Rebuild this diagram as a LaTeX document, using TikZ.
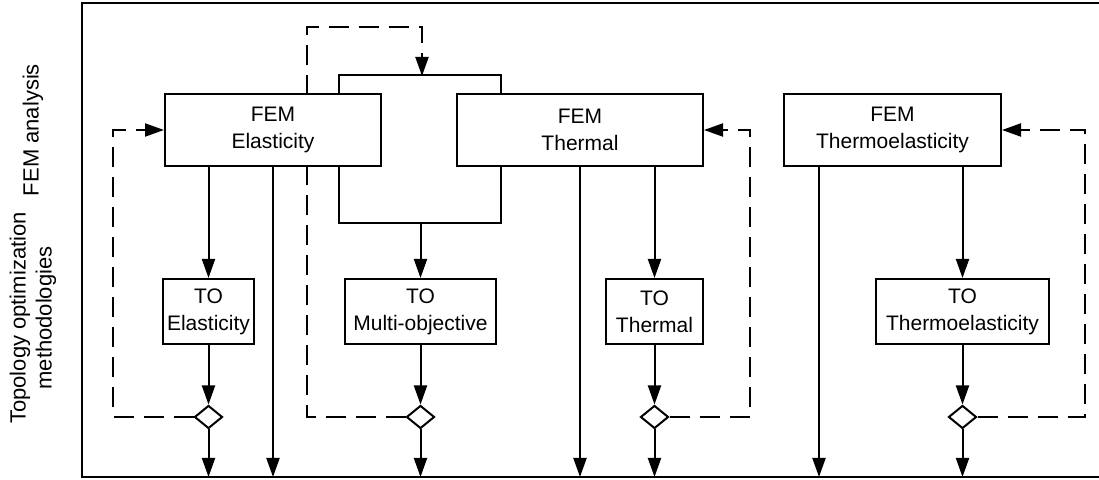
\documentclass[tikz,border=0pt]{standalone}
\usepackage{fontspec}
\setmainfont{Liberation Sans}
\usetikzlibrary{arrows.meta,calc,shapes.geometric,backgrounds}

\begin{document}
\begin{tikzpicture}[x=0.5pt,y=-0.5pt,>={Triangle[length=9.5pt,width=6.5pt]},
  every node/.style={font=\fontsize{10.5}{13.5}\selectfont},
  fembox/.style={draw,line width=1pt,fill=white,align=center,minimum height=36pt,inner sep=1.5pt},
  tobox/.style={draw,line width=1pt,fill=white,align=center,minimum height=32.5pt,inner sep=1.5pt},
  dia/.style={diamond,draw,line width=1pt,fill=white,minimum width=14pt,minimum height=11.5pt,inner sep=0pt},
  rowlab/.style={rotate=90,align=center,font=\fontsize{11}{13}\selectfont},
  arr/.style={->,line width=1pt},
  link/.style={line width=1pt},
  fb/.style={->,line width=1pt,dash pattern=on 10pt off 5pt},
  frame/.style={line width=1.2pt}]
  \useasboundingbox (0,0) rectangle (1099,480);
  % frame, open to the right
  \draw[frame] (1099,3) -- (82,3) -- (82,477) -- (1099,477);
  \coordinate (base) at (0,477);
  \coordinate (drow) at (0,417);
  \coordinate (bl) at (339,0);
  \coordinate (br) at (501,0);
  \coordinate (jb) at (420,222);
  \coordinate (jt) at (422,76);
  % row labels
  \node[rowlab] (labFEM) at (33,130) {FEM analysis};
  \node[rowlab] (labTO) at (33,318) {Topology optimization\\methodologies};
  % FEM analysis row
  \node[fembox,minimum width=108pt] (femE) at (273,130) {FEM\\Elasticity};
  \node[fembox,minimum width=123pt] (femT) at (580,130) {FEM\\Thermal};
  \node[fembox,minimum width=108.5pt] (femTE) at (892.5,130) {FEM\\Thermoelasticity};
  % TO row
  \node[tobox,minimum width=45.5pt] (toE) at (208.5,311.5) {TO\\Elasticity};
  \node[tobox,minimum width=75.5pt] (toM) at (420.5,311.5) {TO\\Multi-objective};
  \node[tobox,minimum width=48.5pt] (toT) at (654.5,311.5) {TO\\Thermal};
  \node[tobox,minimum width=86.5pt] (toTE) at (962.5,311.5) {TO\\Thermoelasticity};
  % decision diamonds
  \foreach \n in {E,M,T,TE}
    \node[dia] (d\n) at (to\n |- drow) {};
  % elasticity
  \draw[arr] (toE |- femE.south) -- (toE);
  \draw[arr] (femE.south) -- (femE.south |- base);
  % both FEM results into the multi-objective TO
  \draw[link] (femE.south -| bl) -- ++(0,56) -| (femT.south -| br);
  \draw[arr] (toM |- jb) -- (toM);
  \draw[link] (femE.north -| bl) -- ++(0,-18) -| (femT.north -| br);
  % thermal
  \draw[arr] (femT.south) -- (femT.south |- base);
  \draw[arr] (toT |- femT.south) -- (toT);
  % thermoelasticity
  \draw[arr] ($(femTE.south west)+(36,0)$) -- ($(femTE.south west |- base)+(36,0)$);
  \draw[arr] (toTE |- femTE.south) -- (toTE);
  \foreach \n in {E,M,T,TE} {
    \draw[arr] (to\n) -- (d\n);
    \draw[arr] (d\n) -- (d\n |- base);
  }
  % feedback loops
  \begin{scope}[on background layer]
    \draw[fb] (dM.west) -| (307,27) -| (jt);
  \end{scope}
  \draw[fb] (dE.west) -| ($(femE.west)+(-51,0)$) -- (femE.west);
  \draw[fb] (dT.east) -| ($(femT.east)+(46,0)$) -- (femT.east);
  \draw[fb] (dTE.east) -| ($(femTE.east)+(83,0)$) -- (femTE.east);
\end{tikzpicture}
\end{document}
